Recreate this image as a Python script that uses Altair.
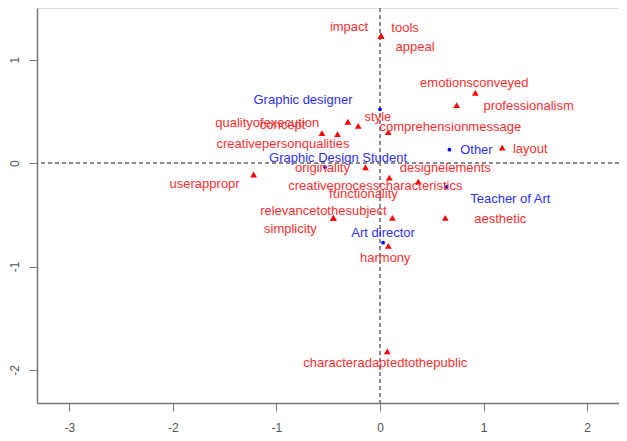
import altair as alt
import pandas as pd

# Column points (red triangles)
col_names = ["impact", "tools", "appeal", "emotionsconveyed", "professionalism",
             "style", "qualityofexecution", "concept", "creativepersonqualities",
             "comprehensionmessage", "layout", "originality", "userappropr",
             "designelements", "creativeprocesscharacteristics", "functionality",
             "relevancetothesubject", "simplicity", "aesthetic", "harmony",
             "characteradaptedtothepublic"]
col_x = [0.01, 0.01, 0.01, 0.92, 0.74, -0.31, -0.21, -0.41, -0.56, 0.08, 1.18,
         -0.14, -1.22, 0.37, 0.09, 0.12, -0.45, -0.45, 0.63, 0.08, 0.07]
col_y = [1.23, 1.23, 1.23, 0.68, 0.56, 0.40, 0.36, 0.28, 0.29, 0.30, 0.15,
         -0.04, -0.11, -0.18, -0.14, -0.53, -0.53, -0.53, -0.53, -0.80, -1.82]

# Row points (blue dots)
row_names = ["Graphic designer", "Other", "Graphic Design Student", "Teacher of Art", "Art director"]
row_x = [0.00, 0.67, -0.53, 0.64, 0.03]
row_y = [0.52, 0.13, -0.04, -0.23, -0.77]

# label offsets in pixels (layout only)
col_off = [(-32, -9), (24, -8), (34, 11), (-1, -10), (72, 1), (30, -5), (-91, -3),
           (-55, -9), (-39, 11), (62, -5), (28, 1), (-43, 1), (-49, 10), (27, -14),
           (-14, 8), (-29, -24), (-10, -7), (-43, 11), (55, 1), (-3, 12), (-2, 12)]
row_off = [(-77, -9), (27, 0), (13, -9), (64, 12), (0, -10)]

PX = 103.6
PY = 103.4
xdom = [-3.311, 2.307]
ydom = [-2.32, 1.50]
W, H = 582, 395

cols = pd.DataFrame({"name": col_names, "x": col_x, "y": col_y})
cols["lx"] = [x + o[0] / PX for x, o in zip(col_x, col_off)]
cols["ly"] = [y - o[1] / PY for y, o in zip(col_y, col_off)]
rows = pd.DataFrame({"name": row_names, "x": row_x, "y": row_y})
rows["lx"] = [x + o[0] / PX for x, o in zip(row_x, row_off)]
rows["ly"] = [y - o[1] / PY for y, o in zip(row_y, row_off)]

xs = alt.Scale(domain=xdom, nice=False, zero=False)
ys = alt.Scale(domain=ydom, nice=False, zero=False)
xax = alt.Axis(values=[-3, -2, -1, 0, 1, 2], grid=False, title=None, domainColor="#777",
               tickColor="#777", tickSize=8, labelColor="#555", labelFontSize=12,
               labelFont="Liberation Sans", labelPadding=11, domainWidth=1.5,
               labelExpr="'' + datum.value")
yax = alt.Axis(values=[-2, -1, 0, 1], grid=False, title=None, domainColor="#777",
               tickColor="#777", tickSize=8, labelColor="#555", labelFontSize=12,
               labelFont="Liberation Sans", labelAngle=-90, labelAlign="center",
               labelBaseline="bottom", labelPadding=8, domainWidth=1.5,
               labelExpr="'' + datum.value")

base_axes = alt.Chart(cols).mark_point(opacity=0).encode(
    x=alt.X("x:Q", scale=xs, axis=xax), y=alt.Y("y:Q", scale=ys, axis=yax))

vrule = alt.Chart(pd.DataFrame({"v": [0]})).mark_rule(
    color="#666", strokeDash=[4, 3], strokeWidth=1.5).encode(x=alt.X("v:Q", scale=xs))
hrule = alt.Chart(pd.DataFrame({"v": [0]})).mark_rule(
    color="#666", strokeDash=[4, 3], strokeWidth=1.5).encode(y=alt.Y("v:Q", scale=ys))

col_pts = alt.Chart(cols).mark_point(shape="triangle-up", filled=True, color="red",
                                     size=45, opacity=1).encode(
    x=alt.X("x:Q", scale=xs), y=alt.Y("y:Q", scale=ys))
row_pts = alt.Chart(rows).mark_point(shape="circle", filled=True, color="blue",
                                     size=14, opacity=1).encode(
    x=alt.X("x:Q", scale=xs), y=alt.Y("y:Q", scale=ys))

col_txt = alt.Chart(cols).mark_text(color="#ff3030", fontSize=13, font="Liberation Sans",
                                    align="center", baseline="middle").encode(
    x=alt.X("lx:Q", scale=xs), y=alt.Y("ly:Q", scale=ys), text="name:N")
row_txt = alt.Chart(rows).mark_text(color="#3030ff", fontSize=13, font="Liberation Sans",
                                    align="center", baseline="middle").encode(
    x=alt.X("lx:Q", scale=xs), y=alt.Y("ly:Q", scale=ys), text="name:N")

chart = alt.layer(base_axes, vrule, hrule, col_pts, row_pts, col_txt, row_txt).properties(
    width=W, height=H,
    autosize=alt.AutoSizeParams(type="none"),
    padding={"left": 29, "top": 0, "right": 0, "bottom": 30},
).configure_view(stroke=None).configure(background="white")

chart.save("out.html", embed_options={"renderer": "svg", "actions": False})
